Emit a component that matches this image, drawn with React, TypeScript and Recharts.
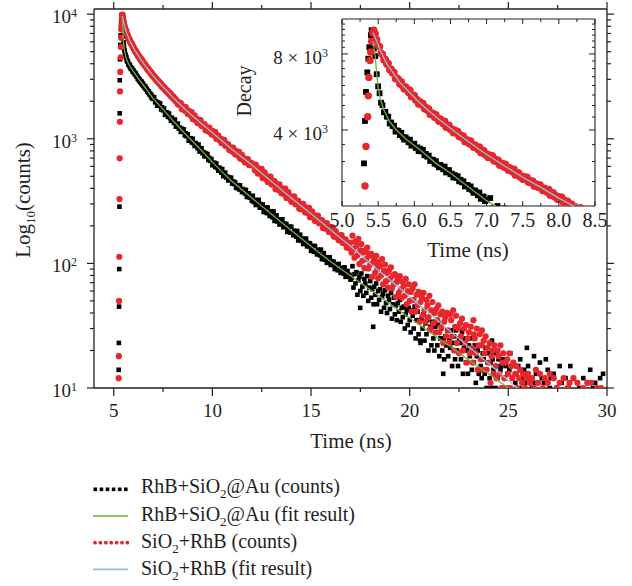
import React from 'react';
import { ComposedChart, Scatter, XAxis, YAxis, Legend } from 'recharts';

const FONT = '"Liberation Serif", "Times New Roman", serif';
const INK = '#231f20';
const RED = '#e8262b';
const GREEN = '#6fb23f';
const BLUE = '#86c6da';

type Pair = [number, number];

// ---- RhB+SiO2@Au (counts) ----
const auCountsRise: Pair[] = [[5.25,14],[5.26,23],[5.27,45],[5.28,90],[5.29,285],[5.3,1600],[5.304,2950],[5.318,4340],[5.332,5660],[5.35,6760],[5.364,7660],[5.378,8510],[5.4,9490],[5.41,9930]];
const auCountsEarly: Pair[] = [[5.42,9600],[5.44,8400],[5.46,7850],[5.48,6650],[5.5,5950],[5.52,5590],[5.54,5130],[5.56,5010],[5.58,4700],[5.6,4720],[5.62,4520],[5.64,4510],[5.66,4245],[5.68,4280],[5.7,4140],[5.72,4160],[5.74,3940],[5.76,3985],[5.78,3965],[5.8,3820],[5.82,3900],[5.84,3755],[5.86,3665],[5.88,3740],[5.9,3670],[5.92,3575],[5.94,3660],[5.96,3465],[5.98,3515],[6.0,3530],[6.02,3395],[6.04,3415],[6.06,3300],[6.08,3375],[6.1,3290],[6.12,3335],[6.14,3175],[6.16,3215],[6.18,3135],[6.2,3165],[6.22,3015],[6.24,3055],[6.26,3045],[6.28,2940],[6.3,3010],[6.32,2910],[6.34,2845],[6.36,2910],[6.38,2865],[6.4,2795],[6.42,2865],[6.44,2715],[6.46,2760],[6.48,2775],[6.5,2670],[6.52,2685],[6.54,2595],[6.56,2650],[6.58,2585],[6.6,2625],[6.62,2505],[6.64,2540],[6.66,2480],[6.68,2505],[6.7,2390],[6.72,2425],[6.74,2420],[6.76,2335],[6.78,2390],[6.8,2310],[6.82,2255],[6.84,2305],[6.86,2265],[6.88,2205],[6.9,2260],[6.92,2135],[6.94,2165],[6.96,2180],[6.98,2090],[7.0,2110]];
const auCountsMid: Pair[] = [[7.05,2150],[7.1,1960],[7.15,2000],[7.2,1840],[7.25,1955],[7.3,1850],[7.35,1925],[7.4,1720],[7.45,1790],[7.5,1690],[7.55,1750],[7.6,1555],[7.65,1625],[7.7,1625],[7.75,1500],[7.8,1595],[7.85,1470],[7.9,1395],[7.95,1475],[8.0,1420],[8.05,1340],[8.1,1425],[8.15,1250],[8.2,1305],[8.25,1325],[8.3,1205],[8.35,1230],[8.4,1135],[8.45,1205],[8.5,1140],[8.55,1190],[8.6,1065],[8.65,1105],[8.7,1045],[8.75,1085],[8.8,965],[8.85,1010],[8.9,1010],[8.95,935],[9.0,1000],[9.05,920],[9.1,875],[9.15,925],[9.2,895],[9.25,840],[9.3,900],[9.35,790],[9.4,825],[9.45,840],[9.5,765],[9.55,782],[9.6,722],[9.65,767],[9.7,725],[9.75,755],[9.8,675],[9.85,703],[9.9,664],[9.95,687],[10.0,613],[10.05,640],[10.1,642],[10.15,592],[10.2,633],[10.25,584],[10.3,555],[10.35,588],[10.4,568],[10.45,535],[10.5,572],[10.55,501],[10.6,526],[10.65,535],[10.7,489],[10.75,499],[10.8,463],[10.85,491],[10.9,467],[10.95,487],[11.0,437],[11.05,455],[11.1,433],[11.15,448],[11.2,403],[11.25,421],[11.3,425],[11.35,393],[11.4,423],[11.45,390],[11.5,373],[11.55,395],[11.6,385],[11.65,362],[11.7,389],[11.75,341],[11.8,359],[11.85,365],[11.9,336],[11.95,342],[12.0,318],[12.05,349],[12.1,311],[12.15,322],[12.2,294],[12.25,323],[12.3,303],[12.35,323],[12.4,280],[12.45,299],[12.5,281],[12.55,297],[12.6,258],[12.65,276],[12.7,282],[12.75,254],[12.8,281],[12.85,253],[12.9,240],[12.95,262],[13.0,253],[13.05,234],[13.1,261],[13.15,219],[13.2,236],[13.25,243],[13.3,217],[13.35,225],[13.4,205],[13.45,225],[13.5,212],[13.55,226],[13.6,195],[13.65,209],[13.7,196],[13.75,207],[13.8,179],[13.85,192],[13.9,197],[13.95,177],[14.0,197],[14.05,177],[14.1,168],[14.15,183],[14.2,177],[14.25,164],[14.3,182],[14.35,153],[14.4,165],[14.45,170],[14.5,152],[14.55,158],[14.6,143],[14.65,157],[14.7,148],[14.75,158],[14.8,137],[14.85,146],[14.9,137],[14.95,145],[15.0,126],[15.05,135],[15.1,138],[15.15,124],[15.2,138],[15.25,124],[15.3,118],[15.35,129],[15.4,125],[15.45,116],[15.5,129],[15.55,108],[15.6,117],[15.65,121],[15.7,107],[15.75,112],[15.8,101],[15.85,111],[15.9,105],[15.95,112],[16.0,97],[16.05,104],[16.1,98],[16.15,103],[16.2,90],[16.25,97],[16.3,98],[16.35,88],[16.4,99],[16.45,89],[16.5,84],[16.55,92],[16.6,90],[16.65,83],[16.7,93],[16.75,78],[16.8,85],[16.85,87],[16.9,79],[16.95,81],[17.0,74]];
const auCountsTail: Pair[] = [[17.05,76],[17.1,95],[17.15,64],[17.2,82],[17.25,69],[17.3,85],[17.35,56],[17.4,73],[17.45,78],[17.49,44],[17.5,60],[17.55,83],[17.6,65],[17.65,55],[17.7,75],[17.75,69],[17.8,58],[17.85,79],[17.9,50],[17.95,64],[18.0,72],[18.05,53],[18.1,62],[18.15,31],[18.17,47],[18.2,65],[18.25,56],[18.3,69],[18.35,47],[18.4,60],[18.45,51],[18.5,62],[18.55,41],[18.6,54],[18.65,57],[18.7,44],[18.75,61],[18.8,48],[18.85,40],[18.9,55],[18.95,51],[19.0,43],[19.05,58],[19.1,36],[19.15,47],[19.2,53],[19.25,39],[19.3,46],[19.35,35],[19.4,48],[19.45,41],[19.5,51],[19.55,34],[19.6,44],[19.65,37],[19.7,45],[19.75,30],[19.8,39],[19.85,42],[19.9,32],[19.95,44],[20.0,35],[20.05,28],[20.1,42],[20.15,38],[20.2,30],[20.25,45],[20.3,25],[20.35,35],[20.4,41],[20.45,27],[20.5,34],[20.53,24],[20.55,23],[20.6,36],[20.65,30],[20.7,39],[20.75,24],[20.8,33],[20.85,27],[20.9,35],[20.95,20],[21.0,29],[21.05,31],[21.1,22],[21.15,34],[21.2,25],[21.25,20],[21.3,31],[21.35,28],[21.4,22],[21.45,33],[21.5,18],[21.55,25],[21.6,30],[21.65,20],[21.7,13],[21.72,25],[21.75,17],[21.8,26],[21.85,22],[21.9,29],[21.95,18],[22.0,24],[22.05,21],[22.1,29],[22.15,15],[22.2,23],[22.25,26],[22.3,17],[22.35,29],[22.4,20],[22.45,15],[22.5,25],[22.55,23],[22.6,17],[22.65,28],[22.7,13],[22.75,21],[22.8,25],[22.85,16],[22.9,20],[22.95,13],[23.0,22],[23.05,18],[23.1,25],[23.15,14],[23.2,20],[23.25,16],[23.3,22],[23.35,11],[23.4,18],[23.45,20],[23.5,13],[23.55,22],[23.6,15],[23.65,12],[23.7,19],[23.75,17],[23.8,13],[23.85,21],[23.9,10],[23.95,16],[24.0,19],[24.05,12],[24.1,16],[24.15,10],[24.17,24],[24.2,17],[24.25,14],[24.3,19],[24.35,10],[24.4,15],[24.45,12],[24.5,17],[24.6,14],[24.65,15],[24.7,10],[24.75,17],[24.8,12],[24.9,15],[24.95,13],[25.0,10],[25.05,14],[25.1,19],[25.2,12],[25.25,16],[25.35,11],[25.4,13],[25.5,15],[25.55,10],[25.6,17],[25.7,12],[25.8,14],[25.85,11],[25.94,21],[26.0,15],[26.1,12],[26.2,10],[26.3,18],[26.35,11],[26.4,13],[26.5,11],[26.6,16],[26.7,12],[26.8,11],[26.9,17],[27.0,14],[27.1,10],[27.15,12],[27.3,13],[27.45,10],[27.6,15],[27.7,11],[27.9,12],[28.05,10],[28.14,15],[28.3,12],[28.5,11],[28.6,10],[28.8,12],[29.0,11],[29.15,14],[29.3,10],[29.4,11],[29.65,12],[29.8,13]];

// ---- SiO2+RhB (counts) ----
const siCountsRise: Pair[] = [[5.25,12],[5.26,18],[5.27,50],[5.28,113],[5.29,328],[5.3,697],[5.31,1370],[5.318,2400],[5.332,3440],[5.355,4510],[5.364,5460],[5.372,6460],[5.387,7530],[5.397,8140],[5.41,8980],[5.425,9700],[5.44,9930],[5.46,9600]];
const siCountsEarly: Pair[] = [[5.48,9100],[5.5,8650],[5.52,8550],[5.54,8050],[5.56,7960],[5.58,7565],[5.6,7600],[5.62,7290],[5.64,7330],[5.66,6925],[5.68,6960],[5.7,6730],[5.72,6750],[5.74,6375],[5.76,6420],[5.78,6350],[5.8,6085],[5.82,6210],[5.84,5975],[5.86,5815],[5.88,5920],[5.9,5800],[5.92,5630],[5.94,5745],[5.96,5420],[5.98,5475],[6.0,5485],[6.02,5250],[6.04,5265],[6.06,5070],[6.08,5160],[6.1,5030],[6.12,5095],[6.14,4850],[6.16,4915],[6.18,4785],[6.2,4840],[6.22,4605],[6.24,4670],[6.26,4655],[6.28,4490],[6.3,4595],[6.32,4435],[6.34,4330],[6.36,4425],[6.38,4345],[6.4,4235],[6.42,4335],[6.44,4100],[6.46,4160],[6.48,4180],[6.5,4015],[6.52,4035],[6.54,3900],[6.56,3990],[6.58,3890],[6.6,3950],[6.62,3765],[6.64,3820],[6.66,3730],[6.68,3775],[6.7,3595],[6.72,3655],[6.74,3645],[6.76,3525],[6.78,3615],[6.8,3495],[6.82,3415],[6.84,3490],[6.86,3435],[6.88,3350],[6.9,3430],[6.92,3250],[6.94,3300],[6.96,3320],[6.98,3190],[7.0,3215],[7.02,3110],[7.04,3185],[7.06,3110],[7.08,3160],[7.1,3020],[7.12,3065],[7.14,2995],[7.16,3035],[7.18,2900],[7.2,2950],[7.22,2945],[7.24,2855],[7.26,2925],[7.28,2830],[7.3,2770],[7.32,2835],[7.34,2790],[7.36,2725],[7.38,2795],[7.4,2650],[7.42,2695],[7.44,2710],[7.46,2610],[7.48,2630],[7.5,2550],[7.52,2610],[7.54,2555],[7.56,2600],[7.58,2485],[7.6,2525],[7.62,2470],[7.64,2505],[7.66,2395],[7.68,2435],[7.7,2440],[7.72,2365],[7.74,2425],[7.76,2350],[7.78,2300],[7.8,2355],[7.82,2320],[7.84,2265],[7.86,2325],[7.88,2205],[7.9,2245],[7.92,2260],[7.94,2175],[7.96,2195],[7.98,2125],[8.0,2175],[8.02,2130],[8.04,2165],[8.06,2070],[8.08,2105],[8.1,2060],[8.12,2090],[8.14,2000],[8.16,2035],[8.18,2035],[8.2,1975]];
const siCountsMid: Pair[] = [[8.25,1890],[8.3,1970],[8.35,1865],[8.4,1935],[8.45,1725],[8.5,1810],[8.55,1815],[8.6,1680],[8.65,1795],[8.7,1660],[8.75,1580],[8.8,1680],[8.85,1625],[8.9,1535],[8.95,1640],[9.0,1440],[9.05,1505],[9.1,1540],[9.15,1405],[9.2,1440],[9.25,1335],[9.3,1425],[9.35,1350],[9.4,1415],[9.45,1265],[9.5,1325],[9.55,1260],[9.6,1310],[9.65,1170],[9.7,1230],[9.75,1235],[9.8,1145],[9.85,1230],[9.9,1140],[9.95,1085],[10.0,1155],[10.05,1120],[10.1,1060],[10.15,1135],[10.2,998],[10.25,1045],[10.3,1065],[10.35,976],[10.4,1000],[10.45,926],[10.5,989],[10.55,939],[10.6,981],[10.65,879],[10.7,919],[10.75,871],[10.8,906],[10.85,811],[10.9,850],[10.95,854],[11.0,791],[11.05,848],[11.1,787],[11.15,750],[11.2,799],[11.25,773],[11.3,733],[11.35,785],[11.4,693],[11.45,725],[11.5,742],[11.55,678],[11.6,697],[11.65,646],[11.7,690],[11.75,655],[11.8,687],[11.85,616],[11.9,646],[11.95,613],[12.0,638],[12.05,610],[12.1,618],[12.15,559],[12.2,620],[12.25,560],[12.3,527],[12.35,579],[12.4,556],[12.45,518],[12.5,573],[12.55,483],[12.6,518],[12.65,537],[12.7,477],[12.75,497],[12.8,449],[12.85,496],[12.9,464],[12.95,498],[13.0,430],[13.05,461],[13.1,430],[13.15,457],[13.2,394],[13.25,425],[13.3,430],[13.35,388],[13.4,430],[13.45,389],[13.5,365],[13.55,401],[13.6,386],[13.65,359],[13.7,398],[13.75,335],[13.8,360],[13.85,373],[13.9,331],[13.95,345],[14.0,312],[14.05,344],[14.1,322],[14.15,345],[14.2,298],[14.25,320],[14.3,299],[14.35,318],[14.4,274],[14.45,296],[14.5,299],[14.55,271],[14.6,301],[14.65,272],[14.7,256],[14.75,281],[14.8,271],[14.85,252],[14.9,279],[14.95,235],[15.0,253],[15.05,262],[15.1,233],[15.15,242],[15.2,219],[15.25,242],[15.3,226],[15.35,242],[15.4,210],[15.45,224],[15.5,210],[15.55,223],[15.6,192],[15.65,207],[15.7,210],[15.75,190],[15.8,211],[15.85,191],[15.9,179],[15.95,196],[16.0,189],[16.05,176],[16.1,195],[16.15,164],[16.2,176],[16.25,182],[16.3,162],[16.35,168],[16.4,153],[16.45,168],[16.5,157],[16.55,169],[16.6,146],[16.65,156],[16.7,146],[16.75,156],[16.8,134],[16.85,144],[16.9,146],[16.95,132],[17.0,147]];
const siCountsTail: Pair[] = [[17.05,122],[17.1,167],[17.15,130],[17.2,111],[17.25,150],[17.3,139],[17.35,116],[17.4,157],[17.45,99],[17.5,127],[17.55,143],[17.6,105],[17.65,122],[17.7,92],[17.75,127],[17.8,108],[17.85,134],[17.9,91],[17.91,120],[17.95,115],[18.0,98],[18.05,119],[18.1,78],[18.15,102],[18.2,109],[18.25,84],[18.3,115],[18.33,100],[18.35,90],[18.4,76],[18.45,103],[18.5,95],[18.55,80],[18.6,108],[18.65,68],[18.7,87],[18.75,98],[18.8,72],[18.85,84],[18.9,64],[18.95,88],[19.0,75],[19.05,93],[19.1,63],[19.15,80],[19.2,68],[19.25,82],[19.3,54],[19.35,71],[19.4,75],[19.45,58],[19.5,79],[19.55,62],[19.6,53],[19.65,71],[19.7,66],[19.75,55],[19.8,75],[19.85,47],[19.9,60],[19.95,68],[20.0,50],[20.05,59],[20.1,41],[20.15,63],[20.2,51],[20.25,68],[20.3,41],[20.35,56],[20.4,46],[20.45,59],[20.5,34],[20.55,49],[20.6,57],[20.62,53],[20.65,38],[20.7,58],[20.75,42],[20.8,34],[20.85,51],[20.9,46],[20.95,37],[21.0,55],[21.05,30],[21.1,42],[21.15,49],[21.2,33],[21.25,40],[21.3,28],[21.35,43],[21.4,35],[21.45,46],[21.5,28],[21.55,39],[21.6,31],[21.65,41],[21.7,23],[21.75,34],[21.8,37],[21.85,26],[21.9,40],[21.95,29],[22.0,23],[22.05,39],[22.1,35],[22.15,26],[22.2,42],[22.25,20],[22.3,31],[22.35,38],[22.4,23],[22.45,30],[22.5,19],[22.55,33],[22.6,26],[22.65,36],[22.7,20],[22.75,30],[22.8,23],[22.85,32],[22.9,16],[22.95,25],[23.0,28],[23.05,19],[23.1,31],[23.15,21],[23.2,16],[23.23,35],[23.25,27],[23.3,25],[23.35,19],[23.4,30],[23.45,14],[23.5,22],[23.55,27],[23.6,17],[23.65,22],[23.66,29],[23.7,14],[23.75,24],[23.8,19],[23.85,26],[23.9,14],[23.95,21],[24.0,16],[24.05,23],[24.1,11],[24.15,18],[24.2,20],[24.25,13],[24.3,22],[24.35,15],[24.4,12],[24.45,20],[24.5,18],[24.55,13],[24.6,22],[24.65,10],[24.7,16],[24.75,19],[24.8,12],[24.85,16],[24.9,10],[24.95,17],[25.0,13],[25.05,19],[25.1,10],[25.15,15],[25.2,12],[25.25,16],[25.35,13],[25.4,15],[25.45,10],[25.55,12],[25.6,14],[25.7,11],[25.75,13],[25.85,10],[25.9,12],[26.0,13],[26.1,11],[26.2,12],[26.3,10],[26.4,14],[26.5,11],[26.6,13],[26.75,10],[26.85,12],[27.0,11],[27.1,13],[27.3,12],[27.45,10],[27.6,11],[27.8,12],[28.0,10],[28.1,11],[28.3,12],[28.5,11],[28.8,10],[29.0,11],[29.2,11],[29.5,10],[29.7,10]];

// ---- fit results ----
const auFit: Pair[] = [[5.43,9000],[5.46,7800],[5.48,6700],[5.5,5900],[5.53,5300],[5.58,4800],[5.65,4350],[5.75,4000],[5.9,3650],[6.1,3300],[6.3,2950],[6.5,2700],[6.75,2380],[7.0,2100],[7.5,1720],[8.0,1400],[8.5,1150],[9.0,950],[9.5,790],[10,650],[10.5,540],[11,455],[12,335],[13,248],[14,184],[15,137],[16,103],[17,79.5],[18,61.4],[19,47.3],[20,36.5],[21,28.2],[22,21.8],[23,16.8],[24,13.0],[25,10.0]];
const siFit: Pair[] = [[5.43,9700],[5.5,8700],[5.53,8260],[5.62,7310],[5.8,6170],[6.08,5100],[6.31,4480],[6.54,3980],[6.77,3560],[7.0,3200],[7.25,2880],[7.5,2600],[7.75,2370],[8.0,2150],[8.5,1800],[9.0,1520],[9.5,1300],[10,1120],[10.5,960],[11,820],[11.5,710],[12,615],[13,455],[14,335],[15,250],[16,185],[17,137],[18,100],[19,73.5],[20,54],[21,39.6],[22,29],[23,21.3],[24,15.7],[25,11.5],[25.45,10]];

// ---- ticks ----
const timeTicks = [5, 7.5, 10, 12.5, 15, 17.5, 20, 22.5, 25, 27.5, 30];
const countTicks = [10,20,30,40,50,60,70,80,90,100,200,300,400,500,600,700,800,900,1000,2000,3000,4000,5000,6000,7000,8000,9000,10000];
const insetTimeTicks = [5, 5.25, 5.5, 5.75, 6, 6.25, 6.5, 6.75, 7, 7.25, 7.5, 7.75, 8, 8.25, 8.5];
const insetDecayTicks = [2500,3000,3500,4000,4500,5000,5500,6000,6500,7000,7500,8000,8500,9000,9500,10000,10500];
const insetLabelled = [4000, 8000];

const toPts = (arr: Pair[]) => arr.map(([x, y]) => ({ x, y }));
const auPts = toPts([...auCountsRise, ...auCountsEarly, ...auCountsMid, ...auCountsTail]);
const siPts = toPts([...siCountsRise, ...siCountsEarly, ...siCountsMid, ...siCountsTail]);
const auFitPts = toPts(auFit);
const siFitPts = toPts(siFit);
const inInset = (p: { x: number }) => p.x >= 4.9 && p.x <= 8.7;
const auInset = auPts.filter(inInset);
const siInset = siPts.filter(inInset);
const auFitInset = auFitPts.filter((p) => p.x <= 8.5);
const siFitInset = siFitPts.filter((p) => p.x <= 9.0);

const square = (s: number) => (props: any) => {
  const { cx, cy } = props;
  if (cx == null || cy == null) return <g />;
  return <rect x={cx - s / 2} y={cy - s / 2} width={s} height={s} fill="#000" />;
};
const dot = (r: number) => (props: any) => {
  const { cx, cy } = props;
  if (cx == null || cy == null) return <g />;
  return <circle cx={cx} cy={cy} r={r} fill={RED} />;
};
const noMark = () => <g />;

const isPow10 = (v: number) => Math.abs(Math.log10(v) - Math.round(Math.log10(v))) < 1e-9;

// main axes ticks (outward)
const BottomTick = (props: any) => {
  const { x, y, payload } = props;
  const v = payload.value as number;
  const major = v % 5 === 0;
  return (
    <g>
      <line x1={x} x2={x} y1={y} y2={y + (major ? 8 : 4)} stroke={INK} strokeWidth={1.2} />
      {major && (
        <text x={x} y={y + 29} textAnchor="middle" fontFamily={FONT} fontSize={19} fill={INK}>{v}</text>
      )}
    </g>
  );
};
const TopTick = (props: any) => {
  const { x, y, payload } = props;
  const major = (payload.value as number) % 5 === 0;
  return <line x1={x} x2={x} y1={y} y2={y - (major ? 7 : 4)} stroke={INK} strokeWidth={1.2} />;
};
const LeftTick = (props: any) => {
  const { x, y, payload } = props;
  const v = payload.value as number;
  const major = isPow10(v);
  const e = Math.round(Math.log10(v));
  return (
    <g>
      <line x1={x - (major ? 7 : 4)} x2={x} y1={y} y2={y} stroke={INK} strokeWidth={1.2} />
      {major && (
        <text x={x - 17} y={y + 9} textAnchor="end" fontFamily={FONT} fontSize={19} fill={INK}>
          10<tspan dy={-6} fontSize={12}>{e}</tspan>
        </text>
      )}
    </g>
  );
};
const RightTick = (props: any) => {
  const { x, y, payload } = props;
  const major = isPow10(payload.value as number);
  return <line x1={x} x2={x + (major ? 7 : 4)} y1={y} y2={y} stroke={INK} strokeWidth={1.2} />;
};

// inset ticks (inward)
const half = (v: number) => Math.abs(v * 2 - Math.round(v * 2)) < 1e-9;
const InsetBottomTick = (props: any) => {
  const { x, y, payload } = props;
  const v = payload.value as number;
  const major = half(v);
  return (
    <g>
      <line x1={x} x2={x} y1={y} y2={y - (major ? 5 : 3)} stroke={INK} strokeWidth={1} />
      {major && (
        <text x={x} y={y + 21} textAnchor="middle" fontFamily={FONT} fontSize={20} fill={INK}>{v.toFixed(1)}</text>
      )}
    </g>
  );
};
const InsetTopTick = (props: any) => {
  const { x, y, payload } = props;
  const major = half(payload.value as number);
  return <line x1={x} x2={x} y1={y} y2={y + (major ? 5 : 3)} stroke={INK} strokeWidth={1} />;
};
const InsetLeftTick = (props: any) => {
  const { x, y, payload } = props;
  const v = payload.value as number;
  const major = insetLabelled.includes(v);
  return (
    <g>
      <line x1={x} x2={x + (major ? 6 : 3)} y1={y} y2={y} stroke={INK} strokeWidth={1} />
      {major && (
        <text x={x - 14} y={y + 10} textAnchor="end" fontFamily={FONT} fontSize={19} fill={INK}>
          {`${v / 1000} × 10`}<tspan dy={-7} fontSize={12}>3</tspan>
        </text>
      )}
    </g>
  );
};
const InsetRightTick = (props: any) => {
  const { x, y, payload } = props;
  const major = insetLabelled.includes(payload.value as number);
  return <line x1={x} x2={x - (major ? 6 : 3)} y1={y} y2={y} stroke={INK} strokeWidth={1} />;
};

const legendRows = [
  { kind: 'sq', color: '#000', text: ['RhB+SiO', '2', '@Au (counts)'] },
  { kind: 'line', color: GREEN, text: ['RhB+SiO', '2', '@Au (fit result)'] },
  { kind: 'dot', color: RED, text: ['SiO', '2', '+RhB (counts)'] },
  { kind: 'line', color: BLUE, text: ['SiO', '2', '+RhB (fit result)'] },
];

const LegendContent = () => (
  <svg width={632} height={116} style={{ display: 'block' }}>
    {legendRows.map((r, i) => {
      const cy = 19.3 + i * 26.7;
      const by = 23.3 + i * 27.2;
      let icon: React.ReactNode = null;
      if (r.kind === 'sq') {
        icon = [0, 1, 2, 3, 4, 5].map((k) => (
          <rect key={k} x={93.5 + k * 6.1} y={cy - 1.8} width={3.6} height={3.6} fill="#000" />
        ));
      } else if (r.kind === 'dot') {
        icon = [0, 1, 2, 3, 4, 5, 6].map((k) => (
          <circle key={k} cx={95 + k * 5.4} cy={cy} r={1.9} fill={RED} />
        ));
      } else {
        icon = <line x1={93} x2={128} y1={cy} y2={cy} stroke={r.color} strokeWidth={1.6} />;
      }
      return (
        <g key={i}>
          {icon}
          <text x={141} y={by} fontFamily={FONT} fontSize={20} fill={INK}>
            {r.text[0]}
            <tspan dy={5} fontSize={13}>{r.text[1]}</tspan>
            <tspan dy={-5}>{r.text[2]}</tspan>
          </text>
        </g>
      );
    })}
  </svg>
);

const axisStyle = { stroke: INK, strokeWidth: 1.3 };

export default function App() {
  return (
    <div style={{ position: 'absolute', left: 0, top: 0, width: 632, height: 586, background: '#fff' }}>
      <div style={{ position: 'absolute', left: 0, top: 0 }}>
        <ComposedChart width={632} height={586} margin={{ top: 0, right: 0, bottom: 138, left: 0 }}>
          <XAxis
            xAxisId="b" dataKey="x" type="number" domain={[4, 30]} allowDataOverflow
            ticks={timeTicks} interval={0} tickLine={false} tickSize={0} tickMargin={0}
            height={60} axisLine={axisStyle} tick={BottomTick}
            label={() => (
              <text x={351} y={448} textAnchor="middle" fontFamily={FONT} fontSize={21} fill={INK}>Time (ns)</text>
            )}
          />
          <XAxis
            xAxisId="t" orientation="top" dataKey="x" type="number" domain={[4, 30]} allowDataOverflow
            ticks={timeTicks} interval={0} tickLine={false} tickSize={0} tickMargin={0}
            height={9} axisLine={axisStyle} tick={TopTick}
          />
          <YAxis
            yAxisId="l" dataKey="y" type="number" scale="log" domain={[10, 11000]} allowDataOverflow
            ticks={countTicks} interval={0} tickLine={false} tickSize={0} tickMargin={0}
            width={94} axisLine={axisStyle} tick={LeftTick}
            label={() => (
              <text x={30} y={200} transform="rotate(-90 30 200)" textAnchor="middle" fontFamily={FONT} fontSize={21} fill={INK}>
                Log<tspan dy={5} fontSize={13}>10</tspan><tspan dy={-5}>(counts)</tspan>
              </text>
            )}
          />
          <YAxis
            yAxisId="r" orientation="right" dataKey="y" type="number" scale="log" domain={[10, 11000]} allowDataOverflow
            ticks={countTicks} interval={0} tickLine={false} tickSize={0} tickMargin={0}
            width={25} axisLine={axisStyle} tick={RightTick}
          />
          <Scatter xAxisId="b" yAxisId="l" data={auPts} shape={square(4.6)} isAnimationActive={false} />
          <Scatter xAxisId="b" yAxisId="l" data={siPts} shape={dot(3.1)} isAnimationActive={false} />
          <Scatter xAxisId="b" yAxisId="l" data={auFitPts} shape={noMark} line={{ stroke: GREEN, strokeWidth: 1.3 }} fill={GREEN} isAnimationActive={false} />
          <Scatter xAxisId="b" yAxisId="l" data={siFitPts} shape={noMark} line={{ stroke: BLUE, strokeWidth: 1.3 }} fill={BLUE} isAnimationActive={false} />
          <Scatter xAxisId="t" yAxisId="r" data={[]} isAnimationActive={false} />
          <Legend
            layout="vertical" align="center" verticalAlign="middle"
            wrapperStyle={{ left: 0, top: 470, width: 632, height: 116 }}
            content={LegendContent}
          />
        </ComposedChart>
      </div>
      <div style={{ position: 'absolute', left: 230, top: 0 }}>
        <ComposedChart width={402} height={280} margin={{ top: 0, right: 0, bottom: 0, left: 0 }}>
          <XAxis
            xAxisId="b" dataKey="x" type="number" domain={[5, 8.5]} allowDataOverflow
            ticks={insetTimeTicks} interval={0} tickLine={false} tickSize={0} tickMargin={0}
            height={74} axisLine={{ stroke: INK, strokeWidth: 1.1 }} tick={InsetBottomTick}
            label={() => (
              <text x={238} y={257} textAnchor="middle" fontFamily={FONT} fontSize={21} fill={INK}>Time (ns)</text>
            )}
          />
          <XAxis
            xAxisId="t" orientation="top" dataKey="x" type="number" domain={[5, 8.5]} allowDataOverflow
            ticks={insetTimeTicks} interval={0} tickLine={false} tickSize={0} tickMargin={0}
            height={19} axisLine={{ stroke: INK, strokeWidth: 1.1 }} tick={InsetTopTick}
          />
          <YAxis
            yAxisId="l" dataKey="y" type="number" scale="log" domain={[2000, 11000]} allowDataOverflow
            ticks={insetDecayTicks} interval={0} tickLine={false} tickSize={0} tickMargin={0}
            width={112} axisLine={{ stroke: INK, strokeWidth: 1.1 }} tick={InsetLeftTick}
            label={() => (
              <text x={21} y={91} transform="rotate(-90 21 91)" textAnchor="middle" fontFamily={FONT} fontSize={20} fill={INK}>Decay</text>
            )}
          />
          <YAxis
            yAxisId="r" orientation="right" dataKey="y" type="number" scale="log" domain={[2000, 11000]} allowDataOverflow
            ticks={insetDecayTicks} interval={0} tickLine={false} tickSize={0} tickMargin={0}
            width={37} axisLine={{ stroke: INK, strokeWidth: 1.1 }} tick={InsetRightTick}
          />
          <Scatter xAxisId="b" yAxisId="l" data={auInset} shape={square(5.8)} isAnimationActive={false} />
          <Scatter xAxisId="b" yAxisId="l" data={siInset} shape={dot(3.7)} isAnimationActive={false} />
          <Scatter xAxisId="b" yAxisId="l" data={auFitInset} shape={noMark} line={{ stroke: GREEN, strokeWidth: 1.3 }} fill={GREEN} isAnimationActive={false} />
          <Scatter xAxisId="b" yAxisId="l" data={siFitInset} shape={noMark} line={{ stroke: BLUE, strokeWidth: 1.3 }} fill={BLUE} isAnimationActive={false} />
          <Scatter xAxisId="t" yAxisId="r" data={[]} isAnimationActive={false} />
        </ComposedChart>
      </div>
    </div>
  );
}
